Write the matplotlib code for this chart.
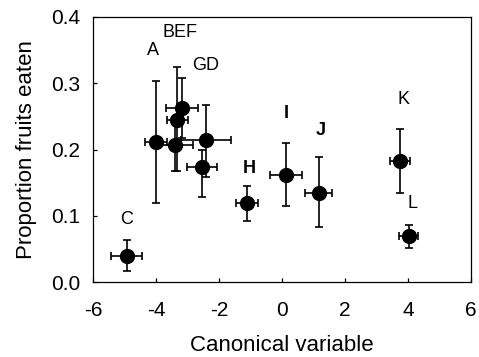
import matplotlib
matplotlib.use("Agg")
import matplotlib.pyplot as plt
import numpy as np

plt.rcParams['font.family'] = ['Liberation Sans', 'DejaVu Sans']

# --- data ---
canon = [-4.93, -4.01, -3.41, -3.32, -3.18, -2.42, -2.55, -1.12, 0.13, 1.17, 3.75, 4.02]
eaten = [0.039, 0.212, 0.207, 0.245, 0.262, 0.214, 0.173, 0.120, 0.162, 0.135, 0.183, 0.069]
eaten_lo = [0.017, 0.119, 0.167, 0.167, 0.217, 0.159, 0.129, 0.092, 0.115, 0.083, 0.134, 0.051]
eaten_hi = [0.063, 0.303, 0.245, 0.325, 0.308, 0.267, 0.200, 0.145, 0.210, 0.188, 0.231, 0.086]
canon_err = [0.50, 0.35, 0.60, 0.32, 0.50, 0.80, 0.48, 0.35, 0.52, 0.43, 0.31, 0.31]

group_labels = ["A", "BEF", "GD", "C", "H", "I", "J", "K", "L"]
label_x = [-4.10, -3.24, -2.41, -4.93, -1.04, 0.13, 1.23, 3.85, 4.14]
label_y = [0.349, 0.376, 0.327, 0.094, 0.172, 0.255, 0.229, 0.275, 0.118]
label_bold = [False, False, False, False, True, True, True, False, False]

x_ticks = [-6, -4, -2, 0, 2, 4, 6]
y_ticks = [0.0, 0.1, 0.2, 0.3, 0.4]

fig = plt.figure(figsize=(4.79, 3.57), dpi=100)
ax = fig.add_axes([93 / 479, 1 - 282 / 357, 378 / 479, 265 / 357])

y = np.array(eaten)
yerr = [y - np.array(eaten_lo), np.array(eaten_hi) - y]
ax.errorbar(canon, eaten, yerr=yerr, xerr=canon_err, fmt='o', color='black',
            markersize=10, elinewidth=1.2, capsize=3, capthick=1.2)

for lab, lx, ly, b in zip(group_labels, label_x, label_y, label_bold):
    ax.text(lx, ly, lab, ha='center', va='center', fontsize=13,
            fontweight='bold' if b else 'normal')

ax.set_xlim(-6, 6)
ax.set_ylim(0, 0.4)
ax.set_xticks(x_ticks)
ax.set_yticks(y_ticks)
ax.set_xticklabels([str(t) for t in x_ticks])
ax.set_yticklabels([f"{t:.1f}" for t in y_ticks])
ax.tick_params(direction='in', length=3, width=0.9, labelsize=15)
ax.tick_params(axis='x', pad=14)
ax.tick_params(axis='y', pad=9)
for s in ax.spines.values():
    s.set_linewidth(0.9)

ax.set_xlabel("Canonical variable", fontsize=16)
ax.set_ylabel("Proportion fruits eaten", fontsize=16)
ax.xaxis.set_label_coords(0.5, -0.2)
ax.yaxis.set_label_coords(-0.147, 0.5)

fig.savefig("out.png", dpi=100)
